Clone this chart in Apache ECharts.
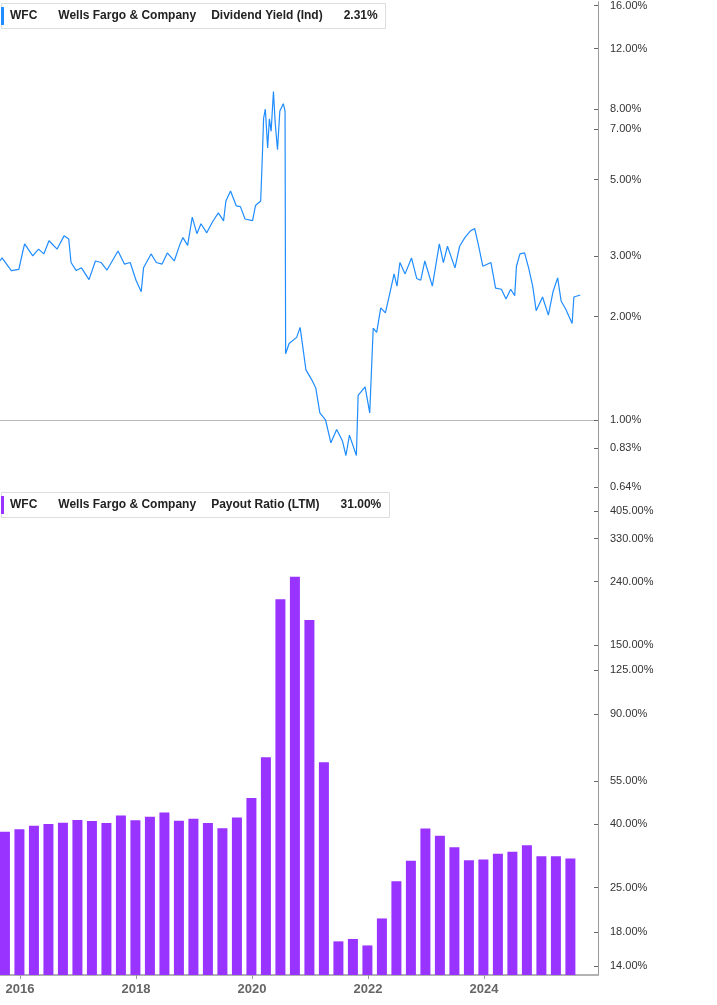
<!DOCTYPE html>
<html>
<head>
<meta charset="utf-8">
<style>
  body { margin: 0; background: #fff; font-family: Roboto, Arial, sans-serif; }
  #main { width: 717px; height: 1005px; }
</style>
<script src="https://cdn.jsdelivr.net/npm/echarts@6/dist/echarts.min.js"></script>
</head>
<body>
<div id="main"></div>
<script type="text/javascript">
// dividend yield (%), dates as decimal years
var yieldDates = [2015.655, 2015.69, 2015.85, 2015.98, 2016.05, 2016.08, 2016.22, 2016.32, 2016.41, 2016.5,
  2016.64, 2016.76, 2016.84, 2016.88, 2016.97, 2017.06, 2017.19, 2017.3, 2017.4, 2017.5,
  2017.69, 2017.8, 2017.9, 2018.0, 2018.09, 2018.13, 2018.26, 2018.35, 2018.45, 2018.54,
  2018.66, 2018.76, 2018.81, 2018.89, 2018.97, 2019.05, 2019.12, 2019.22, 2019.32, 2019.42,
  2019.51, 2019.55, 2019.63, 2019.73, 2019.8, 2019.88, 2020.01, 2020.06, 2020.15, 2020.18,
  2020.2, 2020.23, 2020.27, 2020.3, 2020.33, 2020.37, 2020.4, 2020.44, 2020.48, 2020.54,
  2020.57, 2020.58, 2020.64, 2020.77, 2020.83, 2020.93, 2021.03, 2021.1, 2021.17, 2021.27,
  2021.36, 2021.46, 2021.56, 2021.62, 2021.68, 2021.8, 2021.83, 2021.95, 2022.03, 2022.09,
  2022.15, 2022.22, 2022.3, 2022.38, 2022.45, 2022.5, 2022.55, 2022.64, 2022.75, 2022.84,
  2022.91, 2022.98, 2023.11, 2023.23, 2023.3, 2023.37, 2023.5, 2023.58, 2023.67, 2023.77,
  2023.84, 2023.9, 2023.98, 2024.12, 2024.2, 2024.3, 2024.38, 2024.46, 2024.53, 2024.56,
  2024.62, 2024.7, 2024.77, 2024.84, 2024.9, 2025.01, 2025.11, 2025.19, 2025.27, 2025.33,
  2025.41, 2025.52, 2025.55, 2025.66];
var yieldValues = [2.90, 2.96, 2.72, 2.74, 3.10, 3.25, 3.00, 3.14, 3.04, 3.32,
  3.14, 3.43, 3.36, 2.87, 2.72, 2.77, 2.56, 2.90, 2.87, 2.73,
  3.10, 2.84, 2.87, 2.55, 2.36, 2.77, 3.04, 2.87, 2.84, 3.06,
  2.90, 3.25, 3.39, 3.22, 3.89, 3.48, 3.72, 3.50, 3.77, 4.00,
  3.79, 4.33, 4.63, 4.19, 4.17, 3.84, 3.80, 4.20, 4.33, 5.93,
  7.53, 8.00, 6.17, 7.50, 6.90, 9.00, 7.30, 6.10, 7.90, 8.30,
  7.90, 1.56, 1.67, 1.74, 1.86, 1.40, 1.31, 1.24, 1.05, 1.00,
  0.86, 0.94, 0.87, 0.79, 0.905, 0.79, 1.18, 1.25, 1.05, 1.85,
  1.80, 2.12, 2.05, 2.35, 2.66, 2.45, 2.87, 2.66, 2.96, 2.58,
  2.55, 2.90, 2.45, 3.25, 2.87, 3.20, 2.77, 3.20, 3.39, 3.55,
  3.60, 3.25, 2.80, 2.87, 2.42, 2.40, 2.25, 2.40, 2.30, 2.80,
  3.04, 3.06, 2.77, 2.45, 2.08, 2.28, 2.02, 2.36, 2.59, 2.22,
  2.10, 1.91, 2.28, 2.31];

// payout ratio (%), quarter ends Q3 2015 .. Q2 2025
var payoutDates = [];
for (var q = 0; q < 40; q++) payoutDates.push(2015.74 + q * 0.25);
var payoutValues = [37.8, 38.5, 39.5, 40.0, 40.4, 41.2, 40.9, 40.3, 42.6, 41.1,
  42.2, 43.6, 41.0, 41.6, 40.3, 38.8, 42.0, 48.5, 65.6, 211,
  249, 181, 63.2, 16.8, 17.1, 16.3, 19.9, 26.2, 30.5, 38.7,
  36.7, 33.7, 30.6, 30.8, 32.1, 32.6, 34.2, 31.5, 31.5, 31.0];

var yieldTicks = [0.64, 0.83, 1, 2, 3, 5, 7, 8, 12, 16];
var payoutTicks = [14, 18, 25, 40, 55, 90, 125, 150, 240, 330, 405];
var yearTicks = [2016, 2018, 2020, 2022, 2024];

var lg = Math.log10;
function pct(v) { return Math.pow(10, v).toFixed(2) + '%'; }

var lineData = yieldDates.map(function (d, i) { return [d, lg(yieldValues[i])]; });
var barData = payoutDates.map(function (d, i) { return [d, lg(payoutValues[i])]; });

var xMin = 2015.655, xMax = 2025.966;
var axisCol = '#999';

function legend(color, name, val, top) {
  return {
    text: '{bar|}{b|WFC}   {b|Wells Fargo & Company}   {n|' + name + '}   {b|' + val + '}',
    left: 1, top: top, padding: [4, 8, 4, 0],
    backgroundColor: '#fff', borderColor: '#ddd', borderWidth: 1,
    textStyle: { rich: {
      bar: { width: 3, height: 18, backgroundColor: color },
      b: { fontSize: 12, fontWeight: 'bold', color: '#222', padding: [0, 0, 0, 6] },
      n: { fontSize: 12, color: '#222' }
    } }
  };
}
function tag(color, txt) {
  return {
    silent: true, symbol: 'none', lineStyle: { opacity: 0 },
    label: {
      position: 'end', distance: 0, formatter: txt,
      backgroundColor: color, color: '#fff', fontSize: 11, fontWeight: 'bold',
      lineHeight: 13, width: 109, align: 'center', padding: [2, 4, 2, 4]
    }
  };
}

var myChart = echarts.init(document.getElementById('main'));
var yieldTag = tag('#1f8cff', 'Div Yld (Ind)\n2.31%');
yieldTag.data = [{ yAxis: lg(2.31) }];
var payTag = tag('#9933ff', 'Payout Ratio (LTM)\n31.00%');
payTag.data = [{ yAxis: lg(31) }];

var option = {
  animation: false,
  title: [
    legend('#1f8cff', 'Dividend Yield (Ind)', '2.31%', 3),
    legend('#9933ff', 'Payout Ratio (LTM)', '31.00%', 492)
  ],
  grid: [
    { left: 0, right: 119, top: 0, height: 487 },
    { left: 0, right: 119, top: 488, bottom: 30 }
  ],
  xAxis: [{
    type: 'value', gridIndex: 0, min: xMin, max: xMax,
    axisLine: { lineStyle: { color: '#bbb' } }, axisTick: { show: false },
    axisLabel: { show: false }, splitLine: { show: false }
  }, {
    type: 'value', gridIndex: 1, min: xMin, max: xMax,
    axisLine: { onZero: false, lineStyle: { color: axisCol, width: 1.5 } },
    axisTick: { show: true, length: 4, lineStyle: { color: axisCol }, customValues: yearTicks },
    axisLabel: {
      customValues: yearTicks, formatter: function (v) { return String(Math.round(v)); },
      color: '#666', fontWeight: 'bold', fontSize: 13, margin: 8
    },
    splitLine: { show: false }
  }],
  yAxis: [{
    type: 'value', gridIndex: 0, position: 'right', min: lg(0.64), max: lg(16.4),
    axisLine: { show: true, onZero: false, lineStyle: { color: axisCol } },
    axisTick: { show: true, length: 4, inside: true, lineStyle: { color: '#666' }, customValues: yieldTicks.map(lg) },
    axisLabel: { customValues: yieldTicks.map(lg), formatter: pct, color: '#333', fontSize: 11, margin: 12 },
    splitLine: { show: false }
  }, {
    type: 'value', gridIndex: 1, position: 'right', min: lg(13.1), max: lg(480),
    axisLine: { show: true, onZero: false, lineStyle: { color: axisCol } },
    axisTick: { show: true, length: 4, inside: true, lineStyle: { color: '#666' }, customValues: payoutTicks.map(lg) },
    axisLabel: { customValues: payoutTicks.map(lg), formatter: pct, color: '#333', fontSize: 11, margin: 12 },
    splitLine: { show: false }
  }],
  series: [{
    type: 'line', xAxisIndex: 0, yAxisIndex: 0, data: lineData,
    showSymbol: false, lineStyle: { color: '#1f8cff', width: 1.2 },
    markLine: yieldTag
  }, {
    type: 'bar', xAxisIndex: 1, yAxisIndex: 1, data: barData, barWidth: 10,
    itemStyle: { color: '#9933ff' }, clip: true,
    markLine: payTag
  }]
};
myChart.setOption(option);
</script>
</body>
</html>
